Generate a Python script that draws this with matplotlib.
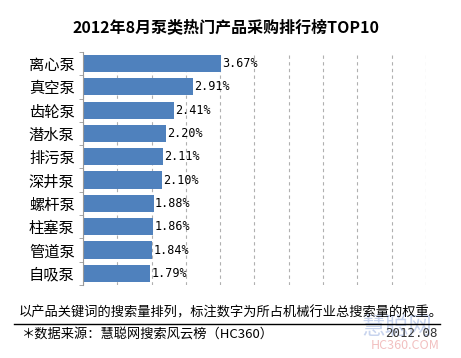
import matplotlib.pyplot as plt
import numpy as np

plt.rcParams['font.family'] = ['Noto Sans CJK SC', 'DejaVu Sans']

pumps = ["离心泵", "真空泵", "齿轮泵", "潜水泵", "排污泵", "深井泵", "螺杆泵", "柱塞泵", "管道泵", "自吸泵"]
shares = [3.67, 2.91, 2.41, 2.20, 2.11, 2.10, 1.88, 1.86, 1.84, 1.79]
labels = ["%.2f%%" % v for v in shares]

fig = plt.figure(figsize=(4.61, 3.58), dpi=100)
ax = fig.add_axes([0.180, 0.204, 0.744, 0.651])

y = np.arange(len(pumps))
ax.barh(y, shares, height=0.74, color="#4F81BD", zorder=2)
for yi, v, t in zip(y, shares, labels):
    ax.text(v + 0.03, yi, t, va="center", ha="left", fontsize=8.5,
            family=["DejaVu Sans Mono"], zorder=3)

ax.set_ylim(len(pumps) - 0.5, -0.5)
ax.set_xlim(0, 9.1)
ax.set_xticks(np.arange(11) * 0.91)
ax.set_xticklabels([])
ax.xaxis.grid(True, linestyle=(0, (3, 3)), color="#b0b0b0", linewidth=0.8, zorder=0)
ax.tick_params(axis="x", length=0)

ax.set_yticks(y)
ax.set_yticklabels(pumps, fontsize=11)
ax.set_yticks(np.arange(len(pumps) + 1) - 0.5, minor=True)
ax.tick_params(axis="y", which="major", length=0, pad=6)
ax.tick_params(axis="y", which="minor", length=3, color="#999999", direction="out")

for s in ["top", "right", "bottom"]:
    ax.spines[s].set_visible(False)
ax.spines["left"].set_color("#999999")
ax.spines["left"].set_linewidth(0.8)

fig.text(0.49, 0.925, "2012年8月泵类热门产品采购排行榜TOP10", ha="center", va="center",
         fontsize=11.5, fontweight="bold")

fig.text(0.04, 0.125, "以产品关键词的搜索量排列，标注数字为所占机械行业总搜索量的权重。",
         ha="left", va="center", fontsize=9.5)
fig.add_artist(plt.Line2D([0.03, 0.955], [0.095, 0.095], color="black", linewidth=1.0))
fig.text(0.048, 0.068, "＊数据来源：慧聪网搜索风云榜（HC360）", ha="left", va="center", fontsize=9.5)

# faint watermark
fig.text(0.86, 0.085, "慧聪网", ha="center", va="center", fontsize=17, color="#c8d4ee", zorder=0)
fig.text(0.88, 0.035, "HC360.COM", ha="center", va="center", fontsize=9, color="#f2c0c0",
         style="italic", zorder=0)
fig.text(0.835, 0.068, "2012.08", ha="left", va="center", fontsize=9,
         family=["DejaVu Sans Mono"], color="#333333")

fig.savefig("out.png", dpi=100)
